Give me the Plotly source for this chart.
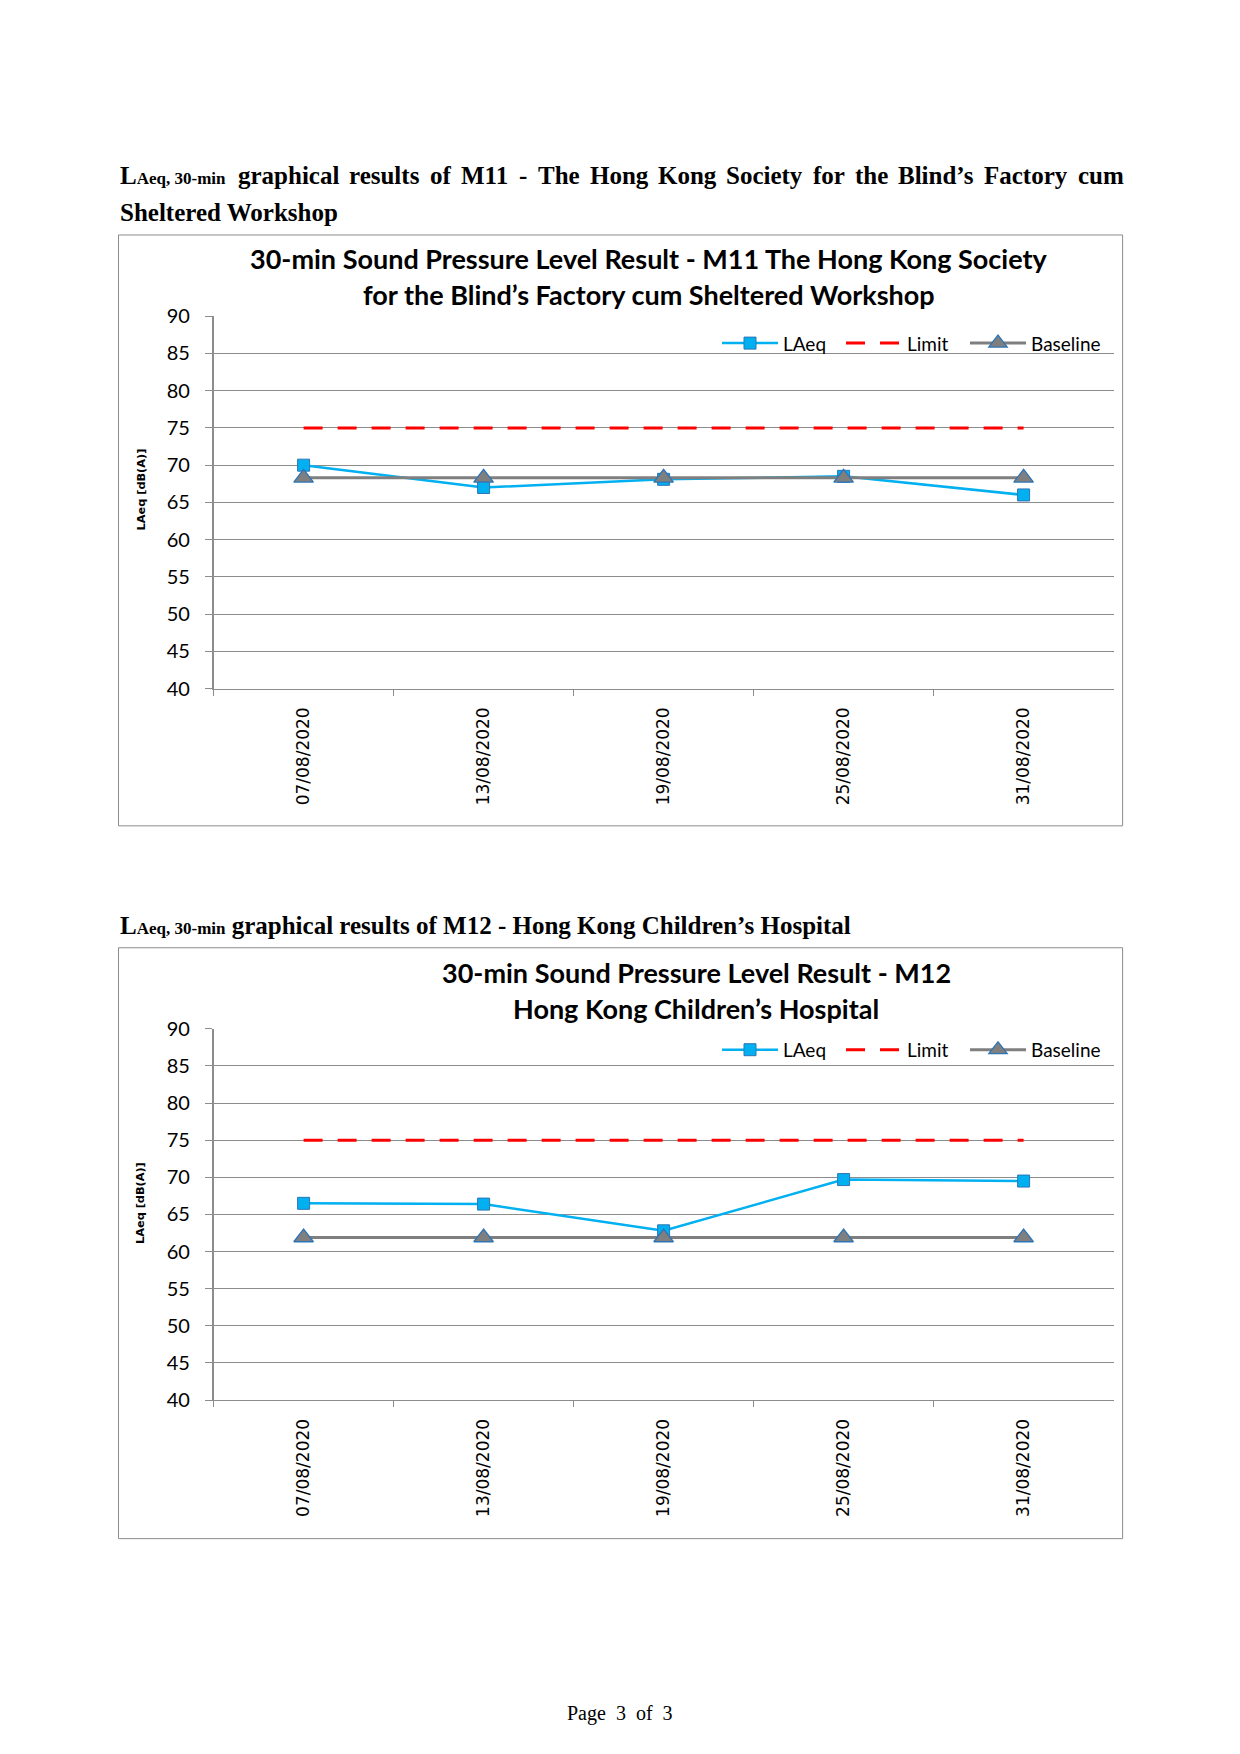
import plotly.graph_objects as go

# ---------------- data ----------------
dates = ["07/08/2020", "13/08/2020", "19/08/2020", "25/08/2020", "31/08/2020"]
m11_laeq = [70.0, 67.0, 68.1, 68.5, 66.0]
m11_limit = [75, 75, 75, 75, 75]
m11_baseline = [68.3, 68.3, 68.3, 68.3, 68.3]
m12_laeq = [66.5, 66.4, 62.8, 69.7, 69.5]
m12_limit = [75, 75, 75, 75, 75]
m12_baseline = [61.9, 61.9, 61.9, 61.9, 61.9]
y_ticks = [40, 45, 50, 55, 60, 65, 70, 75, 80, 85, 90]

SUB = '<span style="font-size:17px">Aeq, 30-min</span>'
heading1_words = ["L" + SUB, "graphical", "results", "of", "M11", "-", "The",
                  "Hong", "Kong", "Society", "for", "the", "Blind’s", "Factory", "cum"]
heading1_line2 = "Sheltered Workshop"
heading2 = "L" + SUB + " graphical results of M12 - Hong Kong Children’s Hospital"
title1 = ["30-min Sound Pressure Level Result - M11 The Hong Kong Society",
          "for the Blind’s Factory cum Sheltered Workshop"]
title2 = ["30-min Sound Pressure Level Result - M12", "Hong Kong Children’s Hospital"]
footer = "Page\u00a0 3\u00a0 of\u00a0 3"

# ---------------- layout helpers ----------------
W, H = 1224, 1740
OFFX = 8
TOP, KY = 21.0, 0.9854   # measured page placement of the figure


def fx(X):
    return (X - OFFX) / W


def fy(Y):
    return 1 - ((Y - TOP) / KY) / H


# word start positions for the justified first heading line (page pixels)
heading1_x = [118.5, 236.6, 348.0, 428.9, 459.8, 518.4, 536.8, 588.5, 656.9,
              725.3, 811.7, 853.6, 897.0, 983.5, 1076.8]

BLUE = "#00B0F0"
BLUE_EDGE = "#2E75B6"
GREY = "#7F7F7F"
RED = "#FF0000"
GRID = "#8C8C8C"

fig = go.Figure()


def add_series(xa, ya, leg, laeq, limit, base):
    fig.add_trace(go.Scatter(
        x=dates, y=laeq, name="LAeq", mode="lines+markers", xaxis=xa, yaxis=ya, legend=leg,
        legendwidth=53,
        line=dict(color=BLUE, width=2.5),
        marker=dict(symbol="square", size=12, color=BLUE, line=dict(color=BLUE_EDGE, width=1))))
    fig.add_trace(go.Scatter(
        x=dates, y=limit, name="Limit", mode="lines", xaxis=xa, yaxis=ya, legend=leg,
        legendwidth=53,
        line=dict(color=RED, width=3, dash="19px,15px")))
    fig.add_trace(go.Scatter(
        x=dates, y=base, name="Baseline", mode="lines+markers", xaxis=xa, yaxis=ya, legend=leg,
        line=dict(color=GREY, width=3),
        marker=dict(symbol="triangle-up", size=17, color=GREY, line=dict(color=BLUE_EDGE, width=1.3))))


add_series("x", "y", "legend", m11_laeq, m11_limit, m11_baseline)
add_series("x2", "y2", "legend2", m12_laeq, m12_limit, m12_baseline)


def xaxis_cfg(anchor):
    return dict(domain=[fx(213.6), fx(1113.6)], anchor=anchor, type="category",
                categoryorder="array", categoryarray=dates, range=[-0.5, 4.5],
                showline=True, linecolor=GRID, linewidth=1, showgrid=False, zeroline=False,
                ticks="outside", tickson="boundaries", ticklen=6, tickcolor=GRID,
                tickangle=-90, ticklabelstandoff=11,
                tickfont=dict(family="DejaVu Sans", size=17, color="black"))


def yaxis_cfg(anchor, top, bottom):
    return dict(domain=[fy(bottom), fy(top)], anchor=anchor, range=[40, 90],
                tickmode="array", tickvals=y_ticks,
                showline=True, linecolor=GRID, linewidth=1.5, showgrid=True, gridcolor=GRID,
                gridwidth=1, zeroline=False, ticks="outside", ticklen=7, tickcolor=GRID,
                ticklabelstandoff=11,
                tickfont=dict(family="Lato", size=20, color="black"))


def legend_cfg(Y):
    return dict(orientation="h", x=fx(1106), xanchor="right", y=fy(Y), yanchor="middle",
                font=dict(family="Lato", size=19, color="black"), bgcolor="rgba(0,0,0,0)",
                itemwidth=56, tracegroupgap=0)


annotations = []


def text(t, X, Y, size, family, xanchor="left", bold=False, color="black", angle=0):
    annotations.append(dict(text=(f"<b>{t}</b>" if bold else t), x=fx(X), y=fy(Y),
                            xref="paper", yref="paper", xanchor=xanchor, yanchor="middle",
                            showarrow=False, textangle=angle,
                            font=dict(family=family, size=size, color=color)))


SERIF = "Liberation Serif"
for w, X in zip(heading1_words, heading1_x):
    text(w, X - 1, 175, 25, SERIF, bold=True)
text(heading1_line2, 117.5, 212, 25, SERIF, bold=True)
text(heading2, 117.5, 925, 25, SERIF, bold=True)

text(title1[0], 649, 258, 27, "Lato", xanchor="center", bold=True)
text(title1[1], 648.5, 294, 27, "Lato", xanchor="center", bold=True)
text(title2[0], 696, 972, 27, "Lato", xanchor="center", bold=True)
text(title2[1], 695.5, 1007.5, 27, "Lato", xanchor="center", bold=True)

text("LAeq [dB(A)]", 141, 489, 11.3, "DejaVu Sans", xanchor="center", bold=True, angle=-90)
text("LAeq [dB(A)]", 141, 1202, 11.3, "DejaVu Sans", xanchor="center", bold=True, angle=-90)

text(footer, 620, 1712, 20, SERIF, xanchor="center")

shapes = [
    dict(type="rect", xref="paper", yref="paper", x0=fx(118.5), x1=fx(1122.6),
         y0=fy(825.2), y1=fy(234.8), line=dict(color=GRID, width=1)),
    dict(type="rect", xref="paper", yref="paper", x0=fx(118.5), x1=fx(1122.6),
         y0=fy(1537.4), y1=fy(947), line=dict(color=GRID, width=1)),
]

fig.update_layout(
    width=W, height=H, autosize=False,
    margin=dict(l=0, r=0, t=0, b=0),
    paper_bgcolor="white", plot_bgcolor="white",
    xaxis=xaxis_cfg("y"), yaxis=yaxis_cfg("x", 316, 688),
    xaxis2=xaxis_cfg("y2"), yaxis2=yaxis_cfg("x2", 1028, 1399),
    legend=legend_cfg(343), legend2=legend_cfg(1049),
    annotations=annotations, shapes=shapes,
    showlegend=True,
)

fig.write_html("out.html")
